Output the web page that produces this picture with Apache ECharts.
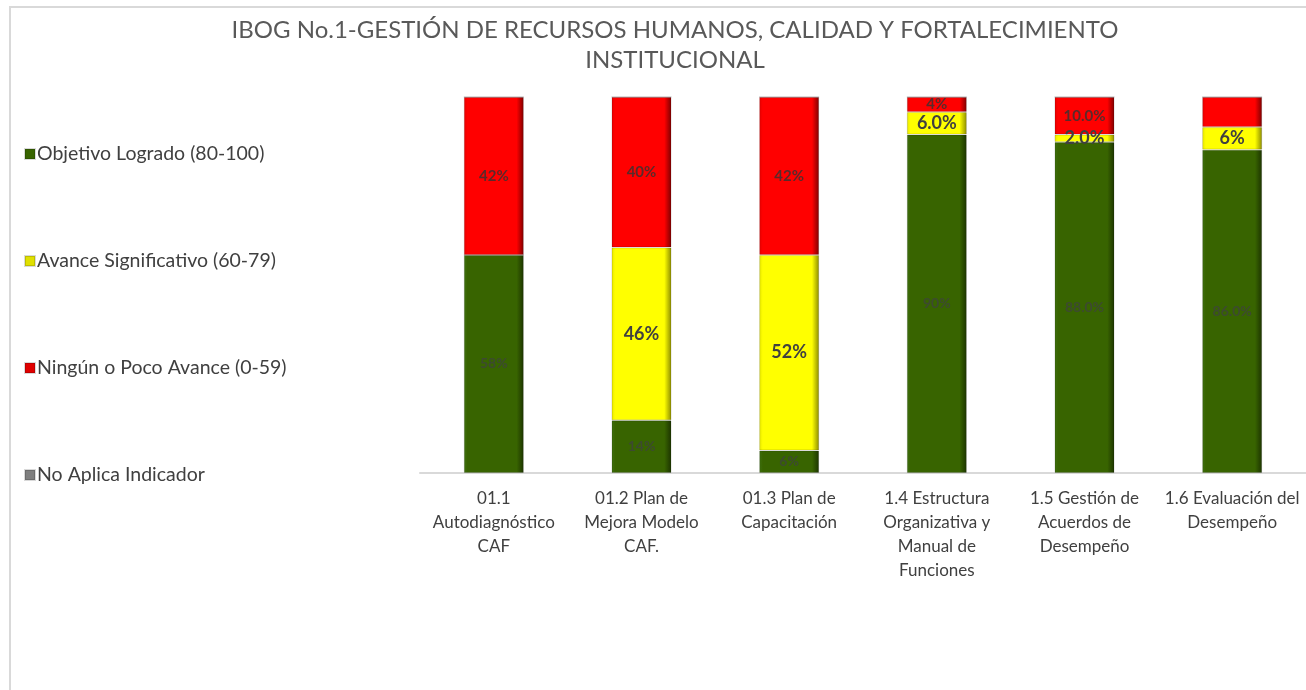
<!DOCTYPE html>
<html>
<head>
<meta charset="utf-8">
<script src="https://cdn.jsdelivr.net/npm/echarts@6/dist/echarts.min.js"></script>
<style>html,body{margin:0;padding:0;background:#fff}#c{width:1306px;height:690px}</style>
</head>
<body>
<div id="c"></div>
<script>
var categories = ['01.1\nAutodiagnóstico\nCAF', '01.2 Plan de\nMejora Modelo\nCAF.', '01.3 Plan de\nCapacitación', '1.4 Estructura\nOrganizativa y\nManual de\nFunciones', '1.5 Gestión de\nAcuerdos de\nDesempeño', '1.6 Evaluación del\nDesempeño'];
var seriesNames = ['Objetivo Logrado (80-100)', 'Avance Significativo (60-79)', 'Ningún o Poco Avance (0-59)', 'No Aplica Indicador'];
var greenValues = [58, 14, 6, 90, 88, 86];
var yellowValues = [0, 46, 52, 6, 2, 6];
var redValues = [42, 40, 42, 4, 10, 8];
var naValues = [0, 0, 0, 0, 0, 0];
// label decimals per bar (-1 = label not shown)
var greenDecimals = [0, 0, 0, 0, 1, 1];
var yellowDecimals = [0, 0, 0, 1, 1, 0];
var redDecimals = [0, 0, 0, 0, 1, -1];
var naDecimals = [0, 0, 0, 0, 0, 0];

var FONT = 'Lato, "Open Sans", sans-serif';
var chart = echarts.init(document.getElementById('c'));

function grad(light, base, dark) {
  return new echarts.graphic.LinearGradient(0, 0, 1, 0, [
    {offset: 0, color: light}, {offset: 0.06, color: base}, {offset: 0.88, color: base}, {offset: 1, color: dark}
  ]);
}
var colors = [
  grad('#3f7010', '#386400', '#1c3300'),
  grad('#e6e600', '#ffff00', '#8a8a00'),
  grad('#e60000', '#ff0000', '#7a0000'),
  grad('#8a8a8a', '#7f7f7f', '#444444')
];
var legendColors = ['#386400', '#e0e000', '#e00000', '#7f7f7f'];

function mkSeries(idx, values, decimals, labelStyle) {
  return {
    name: seriesNames[idx],
    type: 'bar',
    stack: 'total',
    barWidth: 60,
    itemStyle: {color: colors[idx], borderColor: 'rgba(0,0,0,0.15)', borderWidth: 1},
    data: values.map(function (v, i) {
      return {
        value: v,
        label: {show: v > 0 && decimals[i] >= 0}
      };
    }),
    label: Object.assign({
      position: 'inside',
      fontFamily: FONT,
      fontWeight: 'bold',
      color: '#404040',
      formatter: function (p) {
        return p.value.toFixed(decimals[p.dataIndex]) + '%';
      }
    }, labelStyle)
  };
}

chart.setOption({
  backgroundColor: '#fff',
  animation: false,
  color: legendColors,
  title: {
    text: 'IBOG No.1-GESTIÓN DE RECURSOS HUMANOS, CALIDAD Y FORTALECIMIENTO\nINSTITUCIONAL',
    left: 670, top: 10, textAlign: 'center',
    textStyle: {fontFamily: FONT, fontSize: 24, fontWeight: 'normal', color: '#595959', lineHeight: 30}
  },
  legend: {
    orient: 'vertical',
    left: 19, top: 139,
    itemWidth: 10, itemHeight: 10, itemGap: 87,
    icon: 'rect',
    textStyle: {fontFamily: FONT, fontSize: 19.5, color: '#404040', padding: [0, 0, 0, -3]},
    data: seriesNames.map(function (n, i) { return {name: n, itemStyle: {color: legendColors[i]}}; })
  },
  grid: {left: 420, right: -1, top: 97, bottom: 217},
  xAxis: {
    type: 'category',
    data: categories,
    axisLine: {lineStyle: {color: '#d9d9d9', width: 2}},
    axisTick: {show: false},
    axisLabel: {fontFamily: FONT, fontSize: 17, color: '#404040', lineHeight: 24, margin: 14, interval: 0}
  },
  yAxis: {type: 'value', min: 0, max: 100, show: false},
  graphic: [{
    type: 'rect', shape: {x: 10, y: 7, width: 1400, height: 800},
    style: {fill: 'none', stroke: '#d9d9d9', lineWidth: 2}, silent: true, z: -1
  }],
  series: [
    mkSeries(0, greenValues, greenDecimals, {fontSize: 14, color: '#3d4a30'}),
    mkSeries(1, yellowValues, yellowDecimals, {fontSize: 18}),
    mkSeries(2, redValues, redDecimals, {fontSize: 15, color: '#5a2a2a'}),
    mkSeries(3, naValues, naDecimals, {fontSize: 13})
  ]
});
</script>
</body>
</html>
